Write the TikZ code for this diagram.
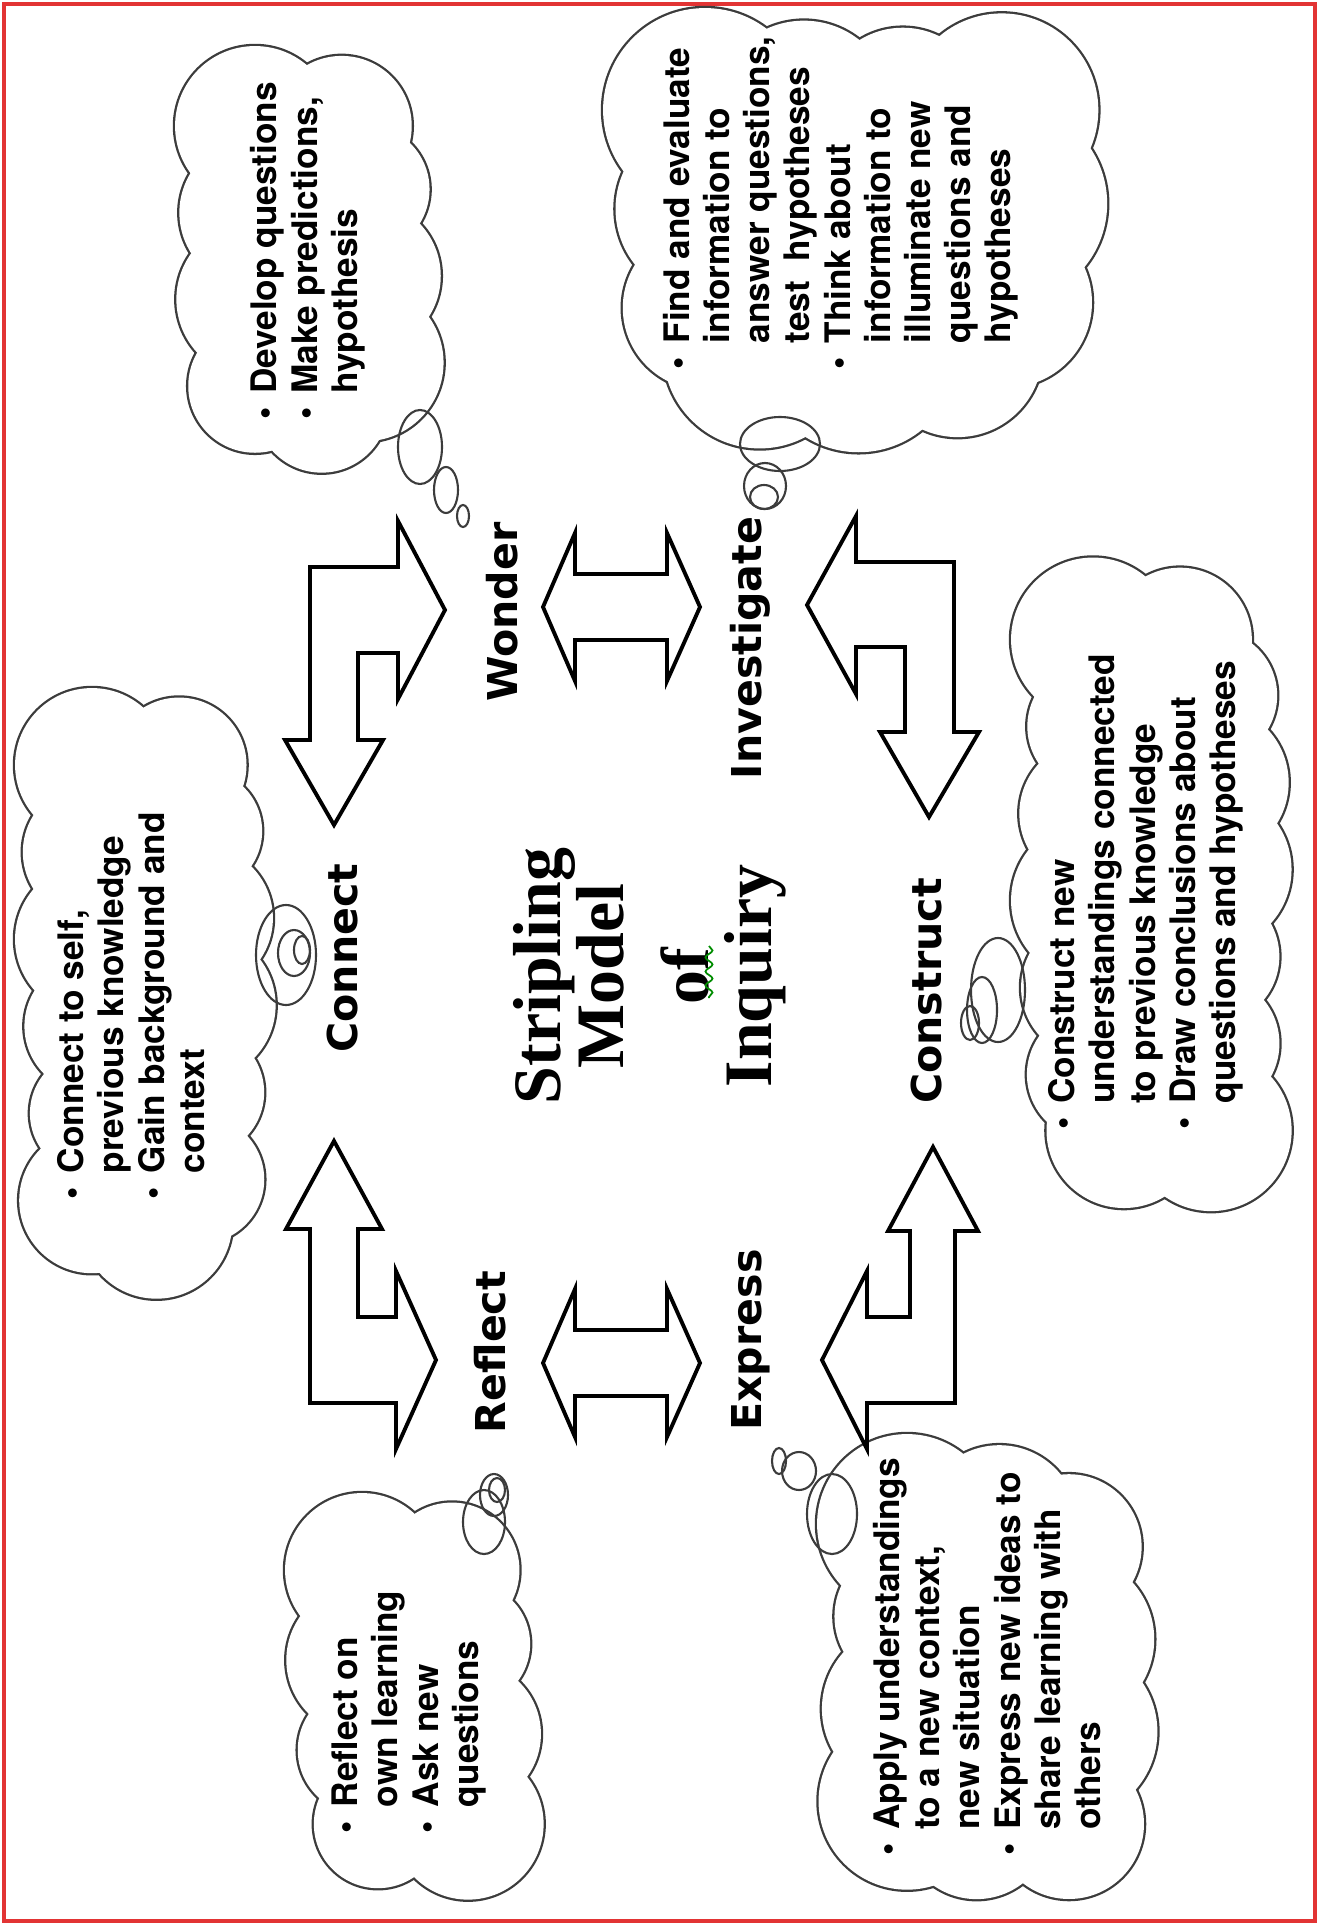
\documentclass[tikz,border=0pt]{standalone}
\usepackage{fontspec}
\usepackage{tikz}
\usetikzlibrary{decorations.pathmorphing}
\setmainfont{texgyreheros}[Extension=.otf, UprightFont=*-regular, BoldFont=*-bold,
  ItalicFont=*-italic, BoldItalicFont=*-bolditalic]
\newfontfamily\titlefont{Liberation Serif}
\newfontfamily\stagefont{DejaVu Sans}
\definecolor{framered}{RGB}{226,52,52}
\definecolor{cloudline}{RGB}{60,60,60}
\newcommand{\bl}{\textbullet}

% cloud made of puffs: centre x, centre y, width, height, puffs, puff radius
\newcommand{\puffcloud}[6]{%
  \pgfmathsetmacro{\cla}{#3/2-#6}%
  \pgfmathsetmacro{\clb}{#4/2-#6}%
  \pgfmathsetmacro{\clp}{4*\cla+4*\clb}%
  \foreach \pass in {0,1}{%
    \foreach \k in {1,...,#5}{%
      \pgfmathsetmacro{\cls}{(\k-1)/#5*\clp}%
      \pgfmathsetmacro{\clr}{#6*(0.9+0.1*sin(\k*97))}%
      \pgfmathsetmacro{\clx}{#1+ifthenelse(\cls<2*\cla,-\cla+\cls,ifthenelse(\cls<2*\cla+2*\clb,\cla,ifthenelse(\cls<4*\cla+2*\clb,\cla-(\cls-2*\cla-2*\clb),-\cla)))}%
      \pgfmathsetmacro{\cly}{#2+ifthenelse(\cls<2*\cla,-\clb,ifthenelse(\cls<2*\cla+2*\clb,-\clb+(\cls-2*\cla),ifthenelse(\cls<4*\cla+2*\clb,\clb,\clb-(\cls-4*\cla-2*\clb))))}%
      \ifnum\pass=0
        \draw[cloudline, line width=1.3pt] (\clx,\cly) circle [radius=\clr];
      \else
        \fill[white] (\clx,\cly) circle [radius=\clr];
      \fi
    }%
  }%
  \fill[white] (#1-\cla,#2-\clb) rectangle (#1+\cla,#2+\clb);
}

\begin{document}
\begin{tikzpicture}[
    x=0.01cm, y=-0.01cm,
    bubble/.style={draw=cloudline, line width=0.6pt},
    notes/.style={rotate=90, inner sep=0pt, font=\fontsize{10pt}{11.4pt}\selectfont\bfseries},
    stage/.style={rotate=90, inner sep=0pt, font=\stagefont\fontsize{11.7pt}{14pt}\selectfont\bfseries},
    blockarrow/.style={draw=black, line width=1.1pt, line join=miter, fill=white}
]
\useasboundingbox (0,0) rectangle (1319,1925);

% Frame
\draw[framered, line width=1.2pt] (4,4) rectangle (1315,1921);

% Clouds
\puffcloud{310}{266}{270}{440}{9}{80}
\puffcloud{856}{231}{506}{446}{11}{102}
\puffcloud{146}{994}{262}{612}{13}{77}
\puffcloud{1152}{885}{282}{655}{14}{82}
\puffcloud{988}{1674}{342}{480}{10}{90}
\puffcloud{415}{1697}{260}{408}{8}{77}

% Thought bubbles
\draw[bubble] (420,447) ellipse [x radius=22, y radius=37];
\draw[bubble] (446,490) ellipse [x radius=12, y radius=23];
\draw[bubble] (463,516) ellipse [x radius=6, y radius=11];

\draw[bubble] (780,444) ellipse [x radius=40, y radius=27];
\draw[bubble] (765,486) ellipse [x radius=21, y radius=23];
\draw[bubble] (764,497) ellipse [x radius=14, y radius=12];

\draw[bubble] (286,955) ellipse [x radius=30, y radius=50];
\draw[bubble] (294,953) ellipse [x radius=16, y radius=23];
\draw[bubble] (302,950) ellipse [x radius=8, y radius=14];

\draw[bubble] (998,990) ellipse [x radius=27, y radius=52];
\draw[bubble] (982,1010) ellipse [x radius=15, y radius=33];
\draw[bubble] (970,1023) ellipse [x radius=9, y radius=17];

\draw[bubble] (832,1514) ellipse [x radius=25, y radius=40];
\draw[bubble] (799,1471) ellipse [x radius=17, y radius=19];
\draw[bubble] (779,1461) ellipse [x radius=7, y radius=13];

\draw[bubble] (484,1522) ellipse [x radius=21, y radius=32];
\draw[bubble] (494,1495) ellipse [x radius=14, y radius=21];
\draw[bubble] (497,1490) ellipse [x radius=8, y radius=12];

% Cloud texts
\node[notes] (text_wonder) at (309,251) {\begin{tabular}{@{}l@{\hspace{0.14cm}}l@{}}
\bl & Develop questions\\
\bl & Make predictions,\\
    & hypothesis
\end{tabular}};

\node[notes] (text_invest) at (842,203) {\begin{tabular}{@{}l@{\hspace{0.14cm}}l@{}}
\bl & Find and evaluate\\
    & information to\\
    & answer questions,\\
    & test\ \ hypotheses\\
\bl & Think about\\
    & information to\\
    & illuminate new\\
    & questions and\\
    & hypotheses
\end{tabular}};

\node[notes] (text_connect) at (136,1006) {\begin{tabular}{@{}l@{\hspace{0.14cm}}l@{}}
\bl & Connect to self,\\
    & previous knowledge\\
\bl & Gain background and\\
    & context
\end{tabular}};

\node[notes] (text_construct) at (1147,892) {\begin{tabular}{@{}l@{\hspace{0.14cm}}l@{}}
\bl & Construct new\\
    & understandings connected\\
    & to previous knowledge\\
\bl & Draw conclusions about\\
    & questions and hypotheses
\end{tabular}};

\node[notes] (text_express) at (992,1657) {\begin{tabular}{@{}l@{\hspace{0.14cm}}l@{}}
\bl & Apply understandings\\
    & to a new context,\\
    & new situation\\
\bl & Express new ideas to\\
    & share learning with\\
    & others
\end{tabular}};

\node[notes] (text_reflect) at (410,1712) {\begin{tabular}{@{}l@{\hspace{0.14cm}}l@{}}
\bl & Reflect on\\
    & own learning\\
\bl & Ask new\\
    & questions
\end{tabular}};

% Stage labels
\node[stage] (connect) at (343,958) {Connect};
\node[stage] (wonder) at (502,612) {Wonder};
\node[stage] (investigate) at (750,648) {Investigate};
\node[stage] (construct) at (927,991) {Construct};
\node[stage] (express) at (751,1340) {Express};
\node[stage] (reflect) at (490,1352) {Reflect};

% Title
\node[rotate=90, inner sep=0pt, align=center,
      font=\titlefont\bfseries\fontsize{19.3pt}{17.9pt}\selectfont] (title) at (650,976)
      {Stripling\\Model\\[0.22cm]of\\Inquiry};
\draw[green!55!black, line width=0.5pt, decorate,
      decoration={snake, amplitude=1pt, segment length=4pt}] (709,946) -- (709,998);

% Bent arrows
\draw[blockarrow] (445,610) -- (398,521) -- (398,567) -- (310,567) -- (310,740) -- (285,740)
    -- (334,825) -- (383,740) -- (358,740) -- (358,653) -- (398,653) -- (398,699) -- cycle;
\draw[blockarrow] (436,1360) -- (396,1449) -- (396,1403) -- (310,1403) -- (310,1229) -- (286,1229)
    -- (334,1141) -- (382,1229) -- (358,1229) -- (358,1317) -- (396,1317) -- (396,1271) -- cycle;
\draw[blockarrow] (807,605) -- (856,516) -- (856,562) -- (954,562) -- (954,732) -- (979,732)
    -- (929,817) -- (880,732) -- (905,732) -- (905,647) -- (856,647) -- (856,694) -- cycle;
\draw[blockarrow] (822,1360) -- (867,1449) -- (867,1403) -- (955,1403) -- (955,1231) -- (978,1231)
    -- (933,1147) -- (888,1231) -- (910,1231) -- (910,1317) -- (867,1317) -- (867,1271) -- cycle;

% Double arrows
\draw[blockarrow] (543,607) -- (575,533) -- (575,574) -- (667,574) -- (667,533) -- (700,607)
    -- (667,681) -- (667,640) -- (575,640) -- (575,681) -- cycle;
\draw[blockarrow] (543,1363) -- (575,1289) -- (575,1330) -- (667,1330) -- (667,1289) -- (700,1363)
    -- (667,1437) -- (667,1396) -- (575,1396) -- (575,1437) -- cycle;

\end{tikzpicture}
\end{document}
